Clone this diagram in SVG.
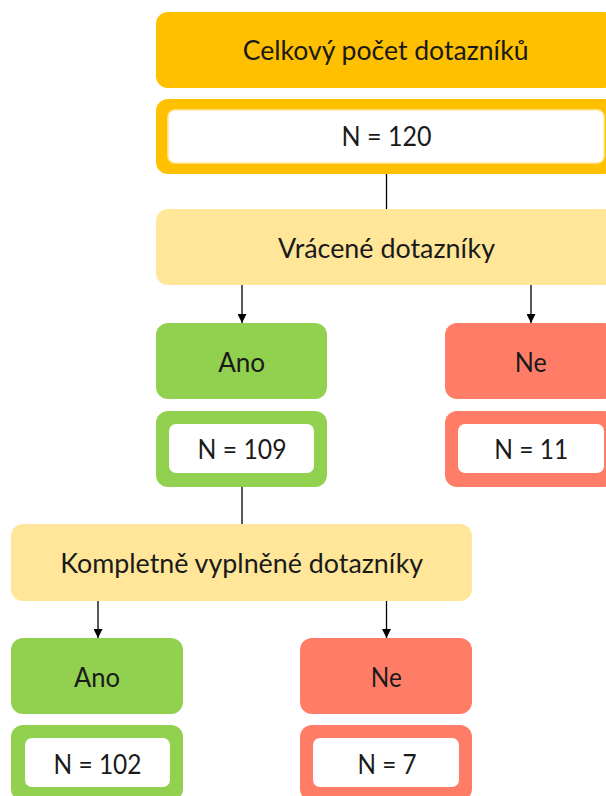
<svg xmlns="http://www.w3.org/2000/svg" width="606" height="796" viewBox="0 0 606 796">
<defs>
<style>
.t{font-family:Lato,"Liberation Sans",sans-serif;font-size:26px;fill:#1a1a1a;text-anchor:middle}
.orange{fill:#FFC000}
.pale{fill:#FFE699}
.green{fill:#92D050}
.red{fill:#FF7D67}
.inner{fill:#FFFFFF}
.innerTop{fill:#FFFFFF;stroke:#FFE8A6;stroke-width:1.5}
.c{stroke:#000;stroke-width:1.3;fill:none}
</style>
<marker id="ah" viewBox="0 0 10 10" refX="10" refY="5" markerWidth="9" markerHeight="9" markerUnits="userSpaceOnUse" orient="auto">
<path d="M0,0 L10,5 L0,10 Z" fill="#000"/>
</marker>
</defs>
<rect width="606" height="796" fill="#FFFFFF"/>

<g id="connectors">
<line class="c" x1="386.5" y1="174" x2="386.5" y2="209"/>
<line class="c" x1="242" y1="285" x2="242" y2="323" marker-end="url(#ah)"/>
<line class="c" x1="531" y1="285" x2="531" y2="323" marker-end="url(#ah)"/>
<line class="c" x1="242" y1="487" x2="242" y2="524"/>
<line class="c" x1="98" y1="601" x2="98" y2="638" marker-end="url(#ah)"/>
<line class="c" x1="386.5" y1="601" x2="386.5" y2="638" marker-end="url(#ah)"/>
</g>

<g id="celkovy">
<rect class="orange" x="156" y="12" width="460" height="76" rx="12"/>
<text class="t" x="385.7" y="60" textLength="286" lengthAdjust="spacingAndGlyphs">Celkový počet dotazníků</text>
</g>
<g id="n120">
<rect class="orange" x="156" y="99" width="460" height="75" rx="12"/>
<rect class="innerTop" x="168" y="110" width="436" height="53" rx="7"/>
<text class="t" x="386.5" y="146" textLength="90" lengthAdjust="spacingAndGlyphs">N = 120</text>
</g>
<g id="vracene">
<rect class="pale" x="156" y="209" width="460" height="76" rx="12"/>
<text class="t" x="386.5" y="258" textLength="217" lengthAdjust="spacingAndGlyphs">Vrácené dotazníky</text>
</g>
<g id="ano1">
<rect class="green" x="156" y="323" width="171" height="76" rx="12"/>
<text class="t" x="241.7" y="372" textLength="47" lengthAdjust="spacingAndGlyphs">Ano</text>
</g>
<g id="n109">
<rect class="green" x="156" y="411" width="171" height="76" rx="12"/>
<rect class="inner" x="169" y="424" width="145" height="49" rx="7"/>
<text class="t" x="242" y="459" textLength="89" lengthAdjust="spacingAndGlyphs">N = 109</text>
</g>
<g id="ne1">
<rect class="red" x="445" y="323" width="171" height="76" rx="12"/>
<text class="t" x="530.7" y="372" textLength="32" lengthAdjust="spacingAndGlyphs">Ne</text>
</g>
<g id="n11">
<rect class="red" x="445" y="411" width="171" height="76" rx="12"/>
<rect class="inner" x="458" y="424" width="146" height="49" rx="7"/>
<text class="t" x="531.3" y="459" textLength="74" lengthAdjust="spacingAndGlyphs">N = 11</text>
</g>
<g id="kompletne">
<rect class="pale" x="11" y="524" width="461" height="77" rx="12"/>
<text class="t" x="241.7" y="573" textLength="363" lengthAdjust="spacingAndGlyphs">Kompletně vyplněné dotazníky</text>
</g>
<g id="ano2">
<rect class="green" x="11" y="638" width="172" height="76" rx="12"/>
<text class="t" x="97" y="687" textLength="46" lengthAdjust="spacingAndGlyphs">Ano</text>
</g>
<g id="n102">
<rect class="green" x="11" y="725" width="172" height="76" rx="12"/>
<rect class="inner" x="25" y="738" width="145" height="49" rx="7"/>
<text class="t" x="97.5" y="774" textLength="88" lengthAdjust="spacingAndGlyphs">N = 102</text>
</g>
<g id="ne2">
<rect class="red" x="300" y="638" width="172" height="76" rx="12"/>
<text class="t" x="386.3" y="687" textLength="31" lengthAdjust="spacingAndGlyphs">Ne</text>
</g>
<g id="n7">
<rect class="red" x="300" y="725" width="172" height="76" rx="12"/>
<rect class="inner" x="313" y="738" width="146" height="49" rx="7"/>
<text class="t" x="387" y="774" textLength="59" lengthAdjust="spacingAndGlyphs">N = 7</text>
</g>
</svg>
